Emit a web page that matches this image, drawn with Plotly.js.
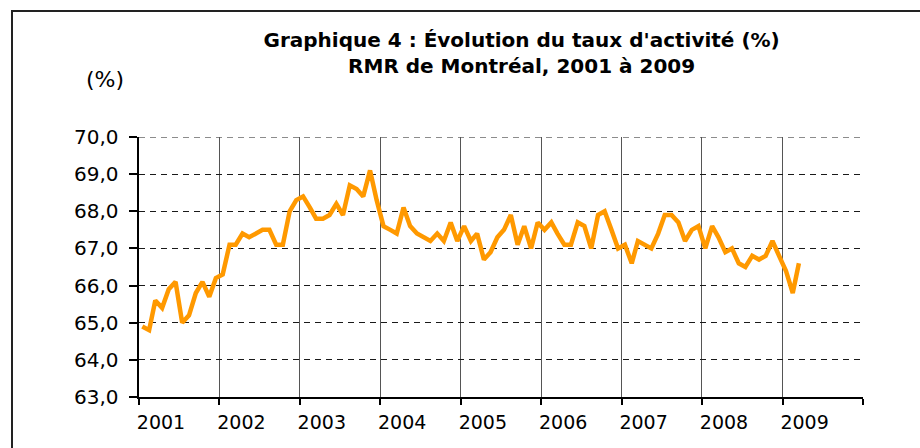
<!DOCTYPE html>
<html>
<head>
<meta charset="utf-8">
<script src="https://cdn.plot.ly/plotly-3.0.1.min.js"></script>
<style>
  html, body { margin: 0; padding: 0; background: #ffffff; }
  #chart { width: 920px; height: 448px; }
</style>
</head>
<body>
<div id="chart"></div>
<script>
// Taux d'activité mensuel (%), RMR de Montréal, janvier 2001 à mars 2009
const startYear = 2001;
const values = [
  64.9, 64.8, 65.6, 65.4, 65.9, 66.1, 65.0, 65.2, 65.8, 66.1, 65.7, 66.2,
  66.3, 67.1, 67.1, 67.4, 67.3, 67.4, 67.5, 67.5, 67.1, 67.1, 68.0, 68.3,
  68.4, 68.1, 67.8, 67.8, 67.9, 68.2, 67.9, 68.7, 68.6, 68.4, 69.1, 68.3,
  67.6, 67.5, 67.4, 68.1, 67.6, 67.4, 67.3, 67.2, 67.4, 67.2, 67.7, 67.2,
  67.6, 67.2, 67.4, 66.7, 66.9, 67.3, 67.5, 67.9, 67.1, 67.6, 67.0, 67.7,
  67.5, 67.7, 67.4, 67.1, 67.1, 67.7, 67.6, 67.0, 67.9, 68.0, 67.5, 67.0,
  67.1, 66.6, 67.2, 67.1, 67.0, 67.4, 67.9, 67.9, 67.7, 67.2, 67.5, 67.6,
  67.0, 67.6, 67.3, 66.9, 67.0, 66.6, 66.5, 66.8, 66.7, 66.8, 67.2, 66.8,
  66.4, 65.8, 66.6
];
const yearLabels = ['2001','2002','2003','2004','2005','2006','2007','2008','2009',''];
const yTicks = [63, 64, 65, 66, 67, 68, 69, 70];

// monthly dates (mid-month) for each value
const dates = values.map((v, i) => {
  const y = startYear + Math.floor(i / 12);
  const m = (i % 12) + 1;
  return y + '-' + String(m).padStart(2, '0') + '-16';
});
const yearTickVals = yearLabels.map((_, k) => (startYear + k) + '-01-01');

const trace = {
  type: 'scatter',
  mode: 'lines',
  x: dates,
  y: values,
  line: { color: '#FF9900', width: 4.5, shape: 'linear' },
  hoverinfo: 'x+y'
};

const FONT = 'DejaVu Sans, Liberation Sans, Arial, sans-serif';
const yMax = yTicks[yTicks.length - 1];

const layout = {
  width: 920,
  height: 448,
  paper_bgcolor: '#ffffff',
  plot_bgcolor: '#ffffff',
  separators: ',.',
  showlegend: false,
  margin: { l: 139, r: 57, t: 137, b: 51, pad: 0 },
  font: { family: FONT, size: 18, color: '#000000' },
  title: {
    text: "Graphique 4 : Évolution du taux d'activité (%)<br>RMR de Montréal, 2001 à 2009",
    font: { family: FONT, size: 20, color: '#000000', weight: 'bold' },
    xref: 'container', yref: 'container',
    x: 0.567, xanchor: 'center',
    y: 1 - 47 / 448, yanchor: 'top'
  },
  xaxis: {
    type: 'date',
    range: ['2001-01-01', '2010-01-01'],
    tickmode: 'array',
    tickvals: yearTickVals,
    ticktext: yearLabels,
    ticks: 'outside',
    ticklen: 6,
    tickwidth: 2,
    tickcolor: '#000000',
    ticklabelshift: 22,
    ticklabelstandoff: 1,
    tickfont: { family: FONT, size: 19, color: '#000000' },
    showline: true,
    linecolor: '#000000',
    linewidth: 2,
    showgrid: true,
    gridcolor: '#555555',
    gridwidth: 1,
    zeroline: false,
    fixedrange: true
  },
  yaxis: {
    range: [63, 70],
    tickmode: 'array',
    tickvals: yTicks,
    tickformat: '.1f',
    ticks: 'outside',
    ticklen: 8,
    tickwidth: 2,
    tickcolor: '#000000',
    ticklabelstandoff: 6,
    tickfont: { family: FONT, size: 20, color: '#000000' },
    showline: true,
    linecolor: '#000000',
    linewidth: 2.5,
    showgrid: true,
    gridcolor: '#1a1a1a',
    gridwidth: 1.2,
    griddash: '6px,5px',
    zeroline: false,
    fixedrange: true
  },
  annotations: [
    {
      text: '(%)',
      xref: 'paper', yref: 'paper',
      x: (105 - 139) / 724, y: (397 - 80) / 260,
      xanchor: 'center', yanchor: 'middle',
      showarrow: false,
      font: { family: FONT, size: 22, color: '#000000' }
    }
  ],
  shapes: [
    {
      type: 'rect',
      xref: 'paper', yref: 'paper',
      x0: (12 - 139) / 724, x1: 1.5,
      y0: -0.6, y1: (397 - 11) / 260,
      line: { color: '#222222', width: 2 },
      fillcolor: 'rgba(0,0,0,0)',
      layer: 'below'
    },
    {
      type: 'line',
      xref: 'paper', yref: 'y',
      x0: 0, x1: 1,
      y0: yMax, y1: yMax,
      line: { color: '#1a1a1a', width: 1.2, dash: '6px,5px' },
      layer: 'below'
    }
  ]
};

Plotly.newPlot('chart', [trace], layout, { displayModeBar: false, staticPlot: true });
</script>
</body>
</html>
